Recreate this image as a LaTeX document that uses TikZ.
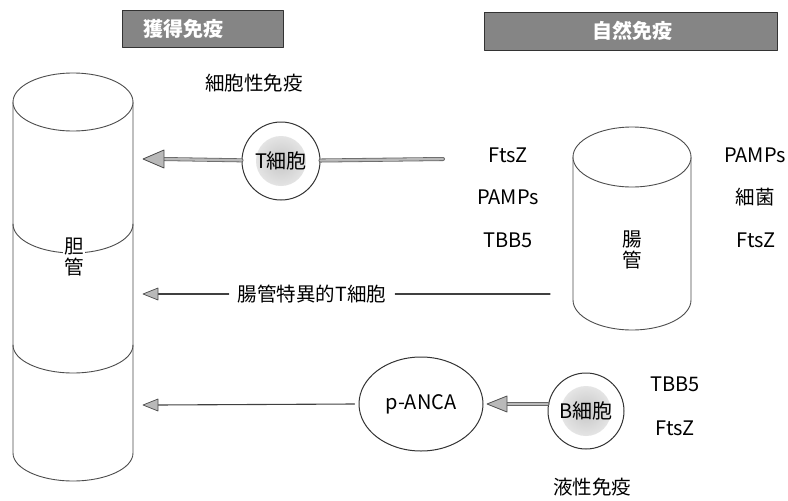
\documentclass[tikz,border=0pt]{standalone}
\usepackage{fontspec}
\setmainfont{Noto Sans CJK JP}
\usetikzlibrary{arrows.meta,shapes.geometric}
\begin{document}
\begin{tikzpicture}[x=1pt,y=-1pt,line cap=round,line join=round,
  ln/.style={draw=black!75,line width=1.1pt},
  cyl/.style={draw=black!70,line width=0.9pt},
  lbl/.style={font=\fontsize{19.5}{21}\selectfont,inner sep=0pt},
  lat/.style={font=\fontsize{20}{22}\selectfont,inner sep=0pt},
  hdr/.style={draw=black!80,fill=black!48,line width=0.8pt},
  hdrtxt/.style={font=\fontsize{20}{22}\selectfont\bfseries,text=white,inner sep=0pt},
  cell/.style={circle,draw=black!80,line width=1pt,fill=white,minimum size=78pt,inner sep=0pt,
    font=\fontsize{20}{22}\selectfont,
    path picture={\shade[inner color=gray!45,outer color=gray!8] (path picture bounding box.center) circle (25pt);}},
  shaft/.style={draw=black!60,double=gray!55,double distance=2.4pt,line width=0.8pt},
  headbig/.style={fill=gray!55,draw=black!70,line width=0.8pt},
  headsmall/.style={fill=gray!55,draw=black!70,line width=0.7pt},
]
\useasboundingbox (0,0) rectangle (788,501);

% headers
\path[hdr] (122,10) rectangle (283,47);
\node[hdrtxt] (h1) at (183,29) {獲得免疫};
\path[hdr] (484,12) rectangle (777,50);
\node[hdrtxt] (h2) at (632,31) {自然免疫};

\node[lbl] (cellimm) at (254,83) {細胞性免疫};

% left cylinder (bile duct)
\draw[cyl,fill=white] (13,102) -- (13,453) arc[start angle=180,end angle=0,x radius=60,y radius=28] -- (133,102);
\draw[cyl,fill=white] (73,102) ellipse[x radius=60,y radius=29];
\draw[cyl] (13,224) arc[start angle=180,end angle=0,x radius=60,y radius=29];
\draw[cyl] (13,345) arc[start angle=180,end angle=0,x radius=60,y radius=28];
\node[lbl,fill=white,inner sep=1pt,align=center] (bile) at (74,257) {胆\\管};

% right cylinder (intestine)
\draw[cyl,fill=white] (573,157) -- (573,300) arc[start angle=180,end angle=0,x radius=59,y radius=30] -- (691,157);
\draw[cyl,fill=white] (632,157) ellipse[x radius=59,y radius=30];
\node[lbl,align=center] (gut) at (632,250) {腸\\管};

% text columns
\node[lat] (l1) at (508,155) {FtsZ};
\node[lat] (l2) at (508,197) {PAMPs};
\node[lat] (l3) at (508,240) {TBB5};
\node[lat] (r1) at (755,155) {PAMPs};
\node[lbl] (r2) at (755,197) {細菌};
\node[lat] (r3) at (756,240) {FtsZ};

% top arrow with T cell
\coordinate (tsrc) at (443,159);
\coordinate (tip1) at (143,159);
\coordinate (base1) at (163,159);
\node[cell] (tcell) at (281,161) {T細胞};
\draw[shaft] (tsrc) -- (tcell);
\draw[shaft] (tcell) -- (base1);
\path[headbig] (tip1) -- ++(21,-9) -- ++(0,18) -- cycle;

% middle arrow
\coordinate (msrc) at (550,294);
\coordinate (tip2) at (143,294);
\coordinate (base2) at (157,294);
\node[lbl,inner sep=9pt] (mid) at (312,294) {腸管特異的T細胞};
\draw[ln] (msrc) -- (mid);
\draw[ln] (mid) -- (base2);
\path[headsmall] (tip2) -- ++(15,-6) -- ++(0,12) -- cycle;

% bottom: B cell -> p-ANCA -> bile duct
\node[ellipse,draw=black!80,line width=1pt,minimum width=124pt,minimum height=94pt,inner sep=0pt,
  font=\fontsize{20}{22}\selectfont] (panca) at (421,404) {p-ANCA};
\node[cell,minimum size=76pt] (bcell) at (586,411) {B細胞};
\coordinate (tip3) at (487,404);
\coordinate (base3) at (506,404);
\draw[shaft] (bcell.west |- base3) -- (base3);
\path[headbig] (tip3) -- ++(20,-8) -- ++(0,16) -- cycle;

\coordinate (tip4) at (143,405);
\coordinate (base4) at (157,405);
\draw[ln] ([xshift=-4pt]panca.west) -- (base4);
\path[headsmall] (tip4) -- ++(15,-6) -- ++(0,12) -- cycle;

\node[lat] (b1) at (675,384) {TBB5};
\node[lat] (b2) at (675,428) {FtsZ};
\node[lbl] (humoral) at (592,487) {液性免疫};
\end{tikzpicture}
\end{document}
